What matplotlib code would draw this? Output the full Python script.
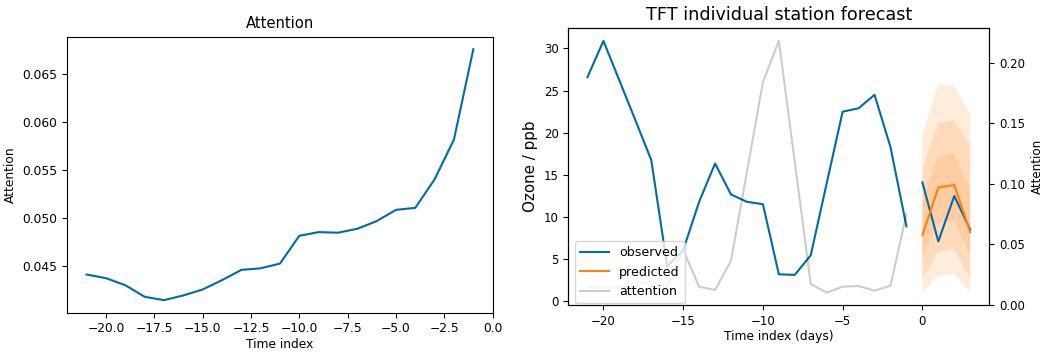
import numpy as np
import matplotlib
matplotlib.use("Agg")
import matplotlib.pyplot as plt

plt.style.use("tableau-colorblind10")

# left panel: mean attention over encoder time index
att_time = np.arange(-21, 0)
att_mean = [0.04407, 0.04369, 0.04296, 0.04175, 0.0414, 0.04189, 0.04251,
            0.04348, 0.04455, 0.04472, 0.04521, 0.04811, 0.04849, 0.04843,
            0.04884, 0.04964, 0.05081, 0.05102, 0.0540, 0.05815, 0.06756]

# right panel: single station forecast
obs_time = np.arange(-21, 0)
observed = [26.6, 30.9, 26.2, 21.5, 16.75, 4.16, 6.06, 11.8, 16.35, 12.67,
            11.8, 11.52, 3.2, 3.13, 5.46, 14.0, 22.5, 22.9, 24.5, 18.3, 8.9]
pred_time = np.arange(0, 4)
observed_future = [14.1, 7.1, 12.5, 8.5]
predicted = [7.84, 13.5, 13.8, 8.2]
# quantile bands (lower, upper), outer to inner
q_outer_lo = [1.05, 3.0, 3.2, 1.05]
q_outer_hi = [19.7, 25.8, 25.5, 22.3]
q_mid_lo = [2.7, 5.9, 6.2, 2.7]
q_mid_hi = [15.6, 21.2, 21.5, 18.5]
q_inner_lo = [5.3, 9.4, 9.5, 5.5]
q_inner_hi = [11.8, 17.3, 17.5, 13.5]
attention = [0.0151, 0.0135, 0.015, 0.016, 0.0193, 0.015, 0.0454, 0.0151,
             0.0124, 0.0366, 0.11, 0.184, 0.218, 0.118, 0.0173, 0.0102,
             0.0151, 0.0157, 0.0118, 0.016, 0.0749]

obs_color = "#006BA4"
pred_color = "#FF800E"

fig = plt.figure(figsize=(10.4, 3.53), dpi=100)

# Attention panel
ax1 = fig.add_axes([0.0647, 0.1142, 0.409, 0.782])
ax1.plot(att_time, att_mean, color=obs_color)
ax1.set_title("Attention", fontsize=10.6)
ax1.set_xlabel("Time index", fontsize=8.8, labelpad=2)
ax1.set_ylabel("Attention", fontsize=8.8)
ax1.tick_params(labelsize=8.8)
ax1.set_xlim(-22, 0)

# Forecast panel
ax = fig.add_axes([0.5465, 0.136, 0.4048, 0.7838])
ax.plot(obs_time, observed, color=obs_color, label="observed")
ax.plot(pred_time, observed_future, color=obs_color)
ax.plot(pred_time, predicted, color=pred_color, label="predicted")
for lo, hi in [(q_outer_lo, q_outer_hi), (q_mid_lo, q_mid_hi), (q_inner_lo, q_inner_hi)]:
    ax.fill_between(pred_time, lo, hi, alpha=0.15, fc=pred_color, lw=0)
ax.set_title("TFT individual station forecast", fontsize=12.7)
ax.set_xlabel("Time index (days)", fontsize=8.8, labelpad=2)
ax.set_ylabel("Ozone / ppb", fontsize=10.9)
ax.tick_params(labelsize=8.5)

ax2 = ax.twinx()
ax2.plot(obs_time, attention, color="k", alpha=0.2, label="attention")
ax2.set_ylim(bottom=0)
ax2.set_ylabel("Attention", fontsize=8.6)
ax2.tick_params(labelsize=8.5)

h1, l1 = ax.get_legend_handles_labels()
h2, l2 = ax2.get_legend_handles_labels()
ax2.legend(h1 + h2, l1 + l2, loc="lower left", fontsize=9.1, handlelength=2.3,
           bbox_to_anchor=(0.016, 0.007), borderaxespad=0)

fig.savefig("out.png", dpi=100)
